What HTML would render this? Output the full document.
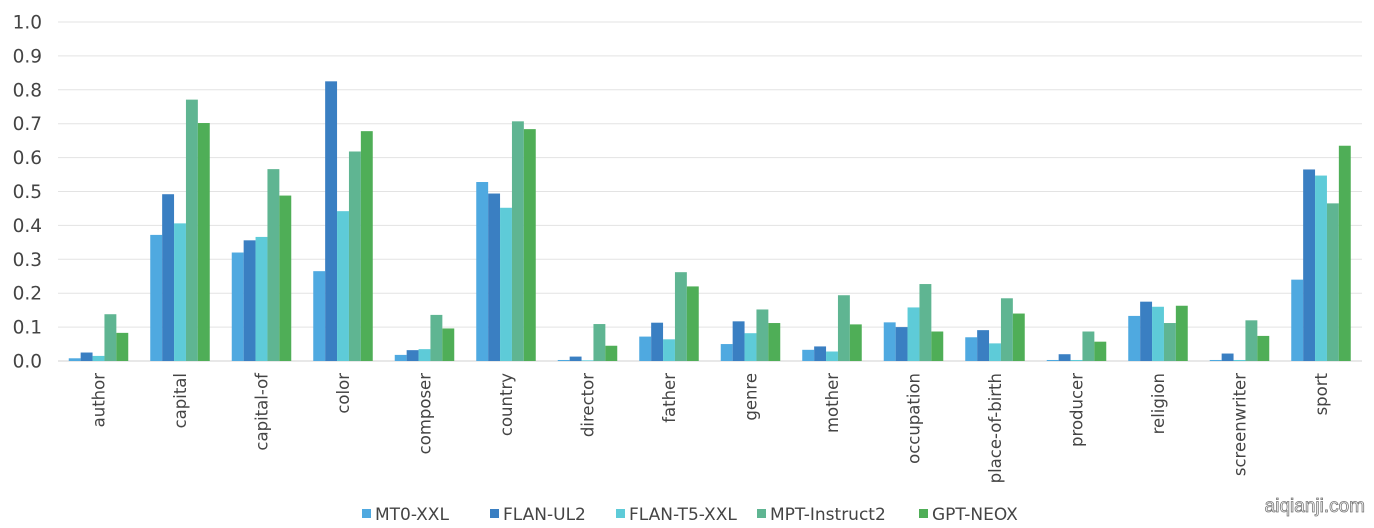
<!DOCTYPE html>
<html><head><meta charset="utf-8"><style>
html,body{margin:0;padding:0;background:#fff;}
svg{display:block;font-family:"DejaVu Sans","Liberation Sans",sans-serif;}
</style></head><body>
<svg id="c" width="1374" height="528" xmlns="http://www.w3.org/2000/svg"></svg>
<script>
var s=document.getElementById('c'),h='';
var y0=361,sc=339;
for(var i=0;i<=10;i++){var y=y0-i*33.9;
h+='<line x1="58" x2="1362" y1="'+y+'" y2="'+y+'" stroke="'+(i==0?'#d0d0d0':'#e3e3e3')+'" stroke-width="1"/>';
h+='<text x="42" y="'+(y+6.5)+'" text-anchor="end" font-size="18.5" fill="#444">'+(i/10).toFixed(1)+'</text>';}
var cols=['#4fa9e0','#3a7fc2','#5ecbd8','#5fb592','#4fae57'];
var cats=['author','capital','capital-of','color','composer','country','director','father','genre','mother','occupation','place-of-birth','producer','religion','screenwriter','sport'];
var d=[[.008,.025,.015,.138,.083],[.372,.492,.406,.771,.702],[.32,.356,.366,.566,.488],[.265,.825,.442,.618,.678],[.018,.032,.035,.136,.096],[.528,.494,.452,.707,.684],[.003,.013,.002,.109,.045],[.072,.113,.064,.262,.22],[.05,.117,.082,.152,.112],[.033,.043,.028,.194,.108],[.114,.1,.158,.227,.087],[.07,.091,.052,.185,.14],[.003,.02,.003,.087,.057],[.133,.175,.16,.112,.163],[.003,.022,.003,.12,.074],[.24,.565,.547,.465,.635]];
var bw=11.9;
for(var c=0;c<16;c++){var cx=98.5+c*81.5;
for(var k=0;k<5;k++){var v=d[c][k],hh=v*sc;
h+='<rect x="'+(cx-2.5*bw+k*bw)+'" y="'+(y0-hh)+'" width="'+bw+'" height="'+hh+'" fill="'+cols[k]+'"/>';}
h+='<text transform="translate('+(cx+6)+',373) rotate(-90)" text-anchor="end" font-size="16.5" fill="#444">'+cats[c]+'</text>';}
var lg=[['MT0-XXL',362],['FLAN-UL2',490],['FLAN-T5-XXL',616],['MPT-Instruct2',757],['GPT-NEOX',919]];
for(var k=0;k<5;k++){h+='<rect x="'+lg[k][1]+'" y="509" width="9" height="9" fill="'+cols[k]+'"/>';
h+='<text x="'+(lg[k][1]+13)+'" y="520" font-size="17" fill="#444">'+lg[k][0]+'</text>';}
h+='<text x="1365" y="512" text-anchor="end" font-size="19" font-family="Liberation Sans" fill="#fff" stroke="#777" stroke-width="0.8">aiqianji.com</text>';
s.innerHTML=h;
</script>
</body></html>
